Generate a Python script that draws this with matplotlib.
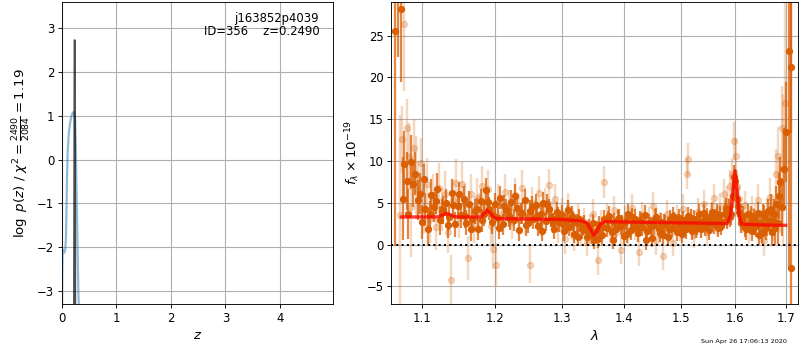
import matplotlib
matplotlib.use('Agg')
import matplotlib.pyplot as plt
from matplotlib.ticker import NullLocator, FixedLocator, FixedFormatter

# ---- redshift panel data ----
pz_z = [0.000, 0.005, 0.012, 0.025, 0.045, 0.060, 0.072, 0.082, 0.092, 0.105,
        0.125, 0.150, 0.175, 0.200, 0.222, 0.240, 0.255, 0.270, 0.285, 0.300, 0.315]
pz_logp = [-3.5, -2.6, -2.05, -2.1, -2.12, -2.05, -1.8, -1.2, -0.4, 0.2,
           0.6, 0.85, 1.0, 1.07, 1.08, 0.95, 0.2, -0.9, -2.0, -3.0, -3.6]

spike_z = [0.218, 0.228, 0.236, 0.246]
spike_logp = [-3.6, 2.72, 2.72, -3.6]

# ---- spectrum panel data (wavelength in micron, flux in 1e-19) ----
dark_wave = [1.0644, 1.0685, 1.072, 1.0745, 1.077, 1.080, 1.082, 1.085, 1.088, 1.091,
             1.094, 1.097, 1.100, 1.104, 1.108, 1.112, 1.116, 1.120, 1.124, 1.128,
             1.132, 1.136, 1.140, 1.144, 1.148, 1.152, 1.156, 1.160, 1.164, 1.168,
             1.172, 1.176, 1.180, 1.184, 1.188, 1.192, 1.196, 1.200, 1.204, 1.208,
             1.212, 1.216, 1.220, 1.224, 1.228, 1.232, 1.236, 1.240, 1.244, 1.248,
             1.252, 1.256, 1.260, 1.264, 1.268, 1.272, 1.276, 1.280, 1.284, 1.288,
             1.292, 1.296, 1.300, 1.304, 1.308, 1.312, 1.316, 1.320, 1.324, 1.328,
             1.332, 1.336, 1.340, 1.344, 1.348, 1.352, 1.356, 1.360, 1.364, 1.368,
             1.372, 1.376, 1.380, 1.384, 1.388, 1.392, 1.396, 1.400, 1.404, 1.408,
             1.412, 1.416, 1.420, 1.424, 1.428, 1.432, 1.436, 1.440, 1.444, 1.448,
             1.452, 1.456, 1.460, 1.464, 1.468, 1.472, 1.476, 1.480, 1.484, 1.488,
             1.492, 1.496, 1.500, 1.504, 1.508, 1.512, 1.516, 1.520, 1.524, 1.528,
             1.532, 1.536, 1.540, 1.544, 1.548, 1.552, 1.556, 1.560, 1.564, 1.568,
             1.572, 1.576, 1.580, 1.584, 1.588, 1.592, 1.596, 1.600, 1.604, 1.608,
             1.612, 1.616, 1.620, 1.624, 1.628, 1.632, 1.636, 1.640, 1.644, 1.648,
             1.652, 1.656, 1.660, 1.664, 1.668, 1.672, 1.676, 1.680, 1.684, 1.688,
             1.692, 1.696, 1.700, 1.706, 1.710, 1.7115]
dark_flux = [25.6, 31.0, 28.2, 5.5, 9.6, 7.6, 3.7, 9.9, 7.3, 8.5,
             5.3, 6.1, 2.7, 4.2, 1.8, 5.9, 4.5, 6.7, 2.9, 4.1,
             5.0, 3.3, 6.2, 2.4, 4.6, 3.5, 5.4, 2.6, 4.9, 3.1,
             4.0, 1.9, 5.2, 3.6, 6.5, 4.3, 2.7, 4.8, 3.2, 5.6,
             2.4, 4.1, 3.4, 5.1, 2.9, 4.4, 1.7, 3.8, 5.3, 2.6,
             4.0, 3.1, 4.7, 2.2, 3.6, 5.0, 2.8, 4.2, 3.3, 1.9,
             3.9, 2.7, 3.5, 1.6, 2.9, 2.1, 3.4, 1.3, 2.6, 3.1,
             1.8, 2.4, 0.9, 2.0, 1.2, 0.6, 1.7, 2.3, 1.1, 3.0,
             2.0, 3.4, 1.5, 2.7, 1.9, 3.2, 2.2, 1.0, 2.8, 3.6,
             1.7, 2.5, 3.1, 1.4, 2.9, 2.1, 3.5, 1.6, 2.6, 0.8,
             2.3, 3.3, 1.9, 2.7, 1.2, 2.4, 0.9, 3.0, 2.0, 2.8,
             1.5, 3.2, 2.2, 2.9, 1.8, 3.4, 2.5, 1.6, 3.0, 2.3,
             3.6, 1.9, 2.8, 2.1, 3.3, 2.6, 3.9, 2.4, 3.1, 2.0,
             3.5, 2.7, 3.8, 3.0, 4.2, 3.6, 5.8, 7.6, 5.5, 3.9,
             2.6, 3.4, 2.1, 3.7, 2.5, 1.6, 3.1, 2.2, 3.8, 2.6,
             1.4, 3.3, 2.0, 4.0, 2.8, 1.5, 3.6, 4.8, 2.6, 7.5,
             4.5, 9.0, 13.5, 23.2, 21.3, -2.8]
dark_err = [25.8, 8.6, 8.7, 5.0, 4.0, 3.5, 3.0, 3.2, 2.8, 2.6,
            2.4, 2.5, 2.0, 2.0, 1.9, 2.0, 1.8, 1.9, 1.7, 1.7,
            1.6, 1.6, 1.7, 1.5, 1.6, 1.5, 1.6, 1.5, 1.5, 1.4,
            1.5, 1.4, 1.5, 1.4, 1.5, 1.4, 1.4, 1.4, 1.3, 1.4,
            1.3, 1.3, 1.3, 1.4, 1.3, 1.3, 1.3, 1.3, 1.3, 1.2,
            1.3, 1.2, 1.3, 1.2, 1.2, 1.3, 1.2, 1.2, 1.2, 1.2,
            1.2, 1.2, 1.2, 1.2, 1.2, 1.1, 1.2, 1.1, 1.1, 1.1,
            1.1, 1.1, 1.1, 1.1, 1.1, 1.1, 1.1, 1.1, 1.1, 1.1,
            1.1, 1.2, 1.1, 1.1, 1.1, 1.1, 1.1, 1.1, 1.1, 1.2,
            1.1, 1.1, 1.1, 1.1, 1.1, 1.1, 1.2, 1.1, 1.1, 1.1,
            1.1, 1.1, 1.1, 1.1, 1.1, 1.1, 1.1, 1.1, 1.1, 1.1,
            1.1, 1.1, 1.1, 1.1, 1.1, 1.1, 1.1, 1.1, 1.1, 1.1,
            1.2, 1.1, 1.1, 1.1, 1.1, 1.1, 1.2, 1.1, 1.1, 1.1,
            1.1, 1.1, 1.2, 1.2, 1.3, 1.3, 1.4, 1.5, 1.4, 1.3,
            1.2, 1.2, 1.2, 1.2, 1.2, 1.2, 1.2, 1.3, 1.3, 1.3,
            1.3, 1.4, 1.4, 1.5, 1.6, 1.7, 1.9, 2.2, 2.5, 3.0,
            3.5, 5.0, 6.0, 26.0, 8.0, 35.0]

# second beam, same grism
dark2_wave = [1.102, 1.110, 1.118, 1.126, 1.134, 1.142, 1.150, 1.158, 1.166, 1.174,
              1.182, 1.190, 1.198, 1.206, 1.214, 1.222, 1.230, 1.238, 1.246, 1.254,
              1.262, 1.270, 1.278, 1.286, 1.294, 1.302, 1.310, 1.318, 1.326, 1.334,
              1.342, 1.350, 1.358, 1.366, 1.374, 1.382, 1.390, 1.398, 1.406, 1.414,
              1.422, 1.430, 1.438, 1.446, 1.454, 1.462, 1.470, 1.478, 1.486, 1.494,
              1.502, 1.510, 1.518, 1.526, 1.534, 1.542, 1.550, 1.558, 1.566, 1.574,
              1.582, 1.590, 1.598, 1.606, 1.614, 1.622, 1.630, 1.638, 1.646, 1.654,
              1.662, 1.670, 1.678, 1.686]
dark2_flux = [7.8, 3.6, 5.2, 3.9, 2.3, 4.7, 6.0, 3.4, 1.8, 4.2,
              2.9, 5.1, 3.5, 2.0, 4.6, 3.0, 5.8, 3.7, 2.3, 4.5,
              3.4, 1.6, 4.8, 2.6, 3.3, 2.4, 4.1, 2.8, 0.9, 2.2,
              1.5, 2.6, 0.7, 2.1, 2.9, 0.6, 3.0, 2.4, 1.3, 3.3,
              2.0, 2.7, 0.5, 2.2, 3.1, 1.4, 2.6, 1.9, 3.4, 2.5,
              1.3, 2.6, 3.2, 1.9, 2.7, 3.8, 1.7, 2.9, 3.7, 2.2,
              4.4, 3.3, 8.1, 4.6, 2.9, 1.8, 3.4, 2.3, 1.2, 3.6,
              2.5, 4.3, 2.0, 5.8]
dark2_err = [1.8, 1.6, 1.6, 1.5, 1.5, 1.5, 1.5, 1.4, 1.4, 1.4,
             1.4, 1.4, 1.4, 1.3, 1.3, 1.3, 1.4, 1.3, 1.3, 1.3,
             1.3, 1.2, 1.3, 1.2, 1.2, 1.2, 1.2, 1.2, 1.1, 1.1,
             1.1, 1.1, 1.1, 1.1, 1.1, 1.1, 1.1, 1.1, 1.1, 1.1,
             1.1, 1.1, 1.1, 1.1, 1.1, 1.1, 1.1, 1.1, 1.1, 1.1,
             1.1, 1.1, 1.1, 1.1, 1.1, 1.1, 1.1, 1.1, 1.1, 1.1,
             1.2, 1.2, 1.4, 1.3, 1.2, 1.2, 1.2, 1.2, 1.3, 1.3,
             1.5, 1.7, 2.0, 2.8]

light_wave = [1.071, 1.074, 1.077, 1.080, 1.083, 1.086, 1.089, 1.092, 1.095, 1.098,
              1.102, 1.106, 1.110, 1.114, 1.118, 1.122, 1.126, 1.130, 1.134, 1.138,
              1.142, 1.146, 1.150, 1.154, 1.158, 1.162, 1.166, 1.170, 1.174, 1.178,
              1.182, 1.186, 1.190, 1.194, 1.198, 1.201, 1.205, 1.210, 1.215, 1.220,
              1.225, 1.230, 1.235, 1.240, 1.245, 1.251, 1.255, 1.260, 1.265, 1.270,
              1.275, 1.280, 1.285, 1.290, 1.295, 1.300, 1.305, 1.310, 1.315, 1.320,
              1.325, 1.330, 1.335, 1.340, 1.345, 1.350, 1.357, 1.362, 1.367, 1.372,
              1.378, 1.384, 1.390, 1.396, 1.402, 1.408, 1.414, 1.420, 1.426, 1.432,
              1.438, 1.444, 1.450, 1.456, 1.462, 1.468, 1.474, 1.480, 1.486, 1.492,
              1.498, 1.504, 1.510, 1.513, 1.518, 1.524, 1.530, 1.536, 1.542, 1.548,
              1.554, 1.560, 1.566, 1.572, 1.578, 1.584, 1.590, 1.595, 1.598, 1.601,
              1.604, 1.608, 1.614, 1.620, 1.626, 1.632, 1.638, 1.644, 1.650, 1.656,
              1.662, 1.668, 1.674, 1.680, 1.684, 1.688, 1.692, 1.695, 1.698]
light_flux = [3.5, 12.6, 26.4, 13.9, 10.5, 4.5, 11.5, 8.0, 6.5, 9.8,
              4.3, 7.3, 3.0, 5.7, 2.1, 6.8, 4.2, 6.1, 1.5, -4.2,
              5.3, 7.4, 3.2, 7.2, 4.8, -1.6, 6.0, 2.5, 5.6, 3.9,
              7.0, 4.6, 6.6, 2.2, -0.5, -2.4, 5.1, 3.6, 6.3, 4.5,
              2.7, 5.9, 4.0, 6.8, 3.2, -2.4, 5.0, 3.7, 6.2, 2.8,
              4.9, 7.1, 3.4, 5.4, 2.0, 3.8, 0.7, 4.4, 2.4, 1.0,
              3.2, 1.5, 2.7, 0.3, 1.9, 3.6, -1.9, 2.4, 7.5, 3.3,
              1.8, 4.1, 2.6, -0.6, 3.0, 1.3, 4.4, 2.2, -0.9, 3.5,
              1.6, 2.9, 4.6, 0.4, 2.3, -1.4, 3.7, 1.9, 0.2, 3.1,
              2.0, 4.3, 8.5, 10.2, 2.7, 1.2, 3.9, 2.4, 4.8, 1.5,
              3.4, 5.6, 2.8, 4.5, 6.0, 5.2, 7.0, 8.3, 12.4, 10.6,
              6.9, 5.5, 3.1, 4.7, 1.9, 4.0, 3.0, 5.3, 2.2, 0.6,
              3.5, 5.7, 2.9, 8.4, 10.6, 5.4, 14.0, 9.0, 17.0]
light_err = [12.0, 4.0, 8.0, 3.5, 4.0, 6.0, 3.5, 5.0, 3.5, 3.0,
             3.0, 3.0, 2.8, 2.8, 2.8, 3.0, 2.6, 2.7, 2.5, 3.0,
             2.6, 2.8, 2.4, 2.7, 2.4, 2.6, 2.5, 2.3, 2.4, 2.3,
             2.4, 2.2, 2.3, 2.2, 2.4, 2.6, 2.2, 2.1, 2.2, 2.0,
             2.0, 2.1, 2.0, 2.1, 1.9, 2.2, 1.9, 1.9, 2.0, 1.8,
             1.9, 2.0, 1.8, 1.9, 1.8, 1.8, 1.8, 1.8, 1.7, 1.8,
             1.7, 1.7, 1.7, 1.7, 1.7, 1.8, 1.8, 1.7, 1.9, 1.7,
             1.6, 1.7, 1.6, 1.7, 1.6, 1.6, 1.7, 1.6, 1.7, 1.6,
             1.6, 1.6, 1.7, 1.6, 1.6, 1.7, 1.6, 1.6, 1.6, 1.6,
             1.6, 1.7, 1.9, 2.0, 1.6, 1.6, 1.7, 1.6, 1.7, 1.6,
             1.6, 1.7, 1.7, 1.7, 1.8, 1.8, 1.9, 2.0, 2.3, 2.2,
             2.0, 1.8, 1.7, 1.7, 1.7, 1.8, 1.8, 1.9, 1.9, 2.0,
             2.1, 2.3, 2.5, 3.0, 3.5, 4.0, 5.0, 9.0, 12.0]

model_wave = [1.073, 1.120, 1.127, 1.132, 1.137, 1.143, 1.150, 1.180, 1.185, 1.189,
              1.193, 1.198, 1.204, 1.250, 1.300, 1.330, 1.340, 1.346, 1.351, 1.356,
              1.362, 1.370, 1.400, 1.450, 1.500, 1.550, 1.585, 1.591, 1.596, 1.600,
              1.604, 1.608, 1.613, 1.650, 1.700]
model_flux = [3.3, 3.3, 3.5, 3.7, 3.6, 3.35, 3.3, 3.3, 3.7, 4.1,
              3.8, 3.3, 3.1, 3.05, 3.0, 2.85, 2.6, 1.8, 1.1, 1.6,
              2.5, 2.75, 2.7, 2.65, 2.6, 2.55, 2.5, 3.5, 6.5, 8.8,
              6.3, 3.4, 2.45, 2.35, 2.3]

wave_ticks = [1.1, 1.2, 1.3, 1.4, 1.5, 1.6, 1.7]
wave_labels = ['1.1', '1.2', '1.3', '1.4', '1.5', '1.6', '1.7']

orange = '#d95f02'
orange_bar = (0.85, 0.37, 0.01, 0.75)
plt.rcParams['font.size'] = 10.5

fig = plt.figure(figsize=(10, 4.375), dpi=80)

# left: p(z)
ax = fig.add_axes([0.0775, 0.1314, 0.3385, 0.8643])
ax.plot(pz_z, pz_logp, color='#1f77b4', alpha=0.5, linewidth=2)
ax.plot(spike_z, spike_logp, color='k', alpha=0.7, linewidth=1.5)
ax.set_xlim(0, 4.97)
ax.set_ylim(-3.29, 3.6)
ax.set_xticks([0, 1, 2, 3, 4])
ax.set_yticks([-3, -2, -1, 0, 1, 2, 3])
ax.grid(linewidth=1.0)
ax.set_xlabel(r'$z$', fontsize=12)
ax.set_ylabel(r'$\log\ p(z)$ / $\chi^2=\frac{2490}{2084}=1.19$', fontsize=12)
ax.text(0.95, 0.965, 'j163852p4039\nID=356    z=0.2490', transform=ax.transAxes,
        ha='right', va='top', fontsize=10.5, linespacing=1.0)

# right: spectrum
ax2 = fig.add_axes([0.489, 0.1314, 0.509, 0.8643])
ax2.errorbar(light_wave, light_flux, yerr=light_err, color=orange, alpha=0.25,
             marker='o', markersize=5.5, linestyle='none', elinewidth=2.2)
for w, f, e in [(dark_wave, dark_flux, dark_err), (dark2_wave, dark2_flux, dark2_err)]:
    ax2.errorbar(w, f, yerr=e, color=orange, ecolor=orange_bar,
                 marker='o', markersize=5.5, linestyle='none', elinewidth=2.0)
ax2.plot(model_wave, model_flux, color='red', alpha=0.75, linewidth=3, zorder=5)
ax2.axhline(0, color='k', linestyle=':', linewidth=1.8, zorder=6)

ax2.set_xscale('log')
ax2.set_xlim(1.060, 1.726)
ax2.xaxis.set_major_locator(FixedLocator(wave_ticks))
ax2.xaxis.set_major_formatter(FixedFormatter(wave_labels))
ax2.xaxis.set_minor_locator(NullLocator())
ax2.set_ylim(-7.12, 29.09)
ax2.set_yticks([-5, 0, 5, 10, 15, 20, 25])
ax2.grid(linewidth=1.0)
ax2.set_xlabel(r'$\lambda$', fontsize=12)
ax2.set_ylabel(r'$f_\lambda \times 10^{-19}$', fontsize=12)

fig.text(0.984, 0.017, 'Sun Apr 26 17:06:13 2020', ha='right', va='bottom', fontsize=5.8)

plt.savefig('out.png', dpi=80)
